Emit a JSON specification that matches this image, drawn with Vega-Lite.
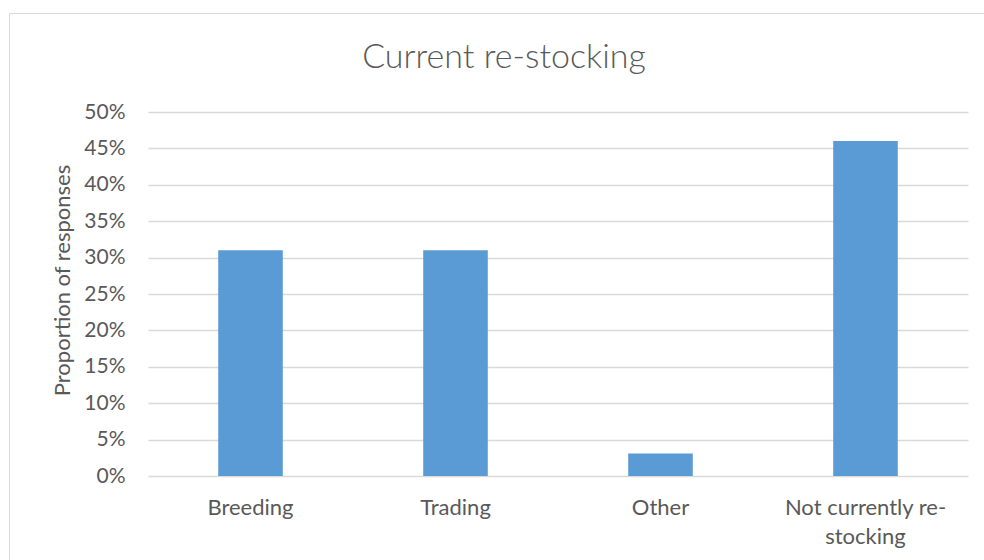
{
  "$schema": "https://vega.github.io/schema/vega-lite/v6.json",
  "width": 990,
  "height": 560,
  "autosize": {"type": "none"},
  "padding": {"left": 9, "top": 13, "right": 0, "bottom": 0},
  "background": "white",
  "title": {
    "text": "Current re-stocking",
    "font": "Lato",
    "fontWeight": 300,
    "fontSize": 34,
    "color": "#595959",
    "anchor": "middle",
    "frame": "group",
    "baseline": "alphabetic",
    "offset": -89
  },
  "data": {
    "values": [
      {"category": "Breeding", "proportion": 0.31},
      {"category": "Trading", "proportion": 0.31},
      {"category": "Other", "proportion": 0.031},
      {"category": "Not currently re-stocking", "proportion": 0.46}
    ]
  },
  "mark": {"type": "bar", "color": "#5B9BD5"},
  "encoding": {
    "x": {
      "field": "category",
      "type": "nominal",
      "sort": null,
      "scale": {"range": [139, 959], "paddingInner": 0.685, "paddingOuter": 0.3425},
      "axis": {
        "title": null,
        "labelAngle": 0,
        "domain": false,
        "ticks": false,
        "grid": false,
        "labelFont": "Lato",
        "labelFontSize": 22,
        "labelColor": "#595959",
        "labelPadding": 38,
        "labelBaseline": "alphabetic",
        "labelLineHeight": 29,
        "labelLimit": 0,
        "labelOverlap": false,
        "offset": -97,
        "labelExpr": "datum.value == 'Not currently re-stocking' ? ['Not currently re-', 'stocking'] : datum.label"
      }
    },
    "y": {
      "field": "proportion",
      "type": "quantitative",
      "scale": {"domain": [0, 0.5], "range": [463, 99], "nice": false, "zero": true},
      "axis": {
        "title": "Proportion of responses",
        "values": [0, 0.05, 0.1, 0.15, 0.2, 0.25, 0.3, 0.35, 0.4, 0.45, 0.5],
        "format": ".0%",
        "domain": false,
        "ticks": false,
        "grid": true,
        "gridColor": "#d9d9d9",
        "gridWidth": 1.5,
        "labelFont": "Lato",
        "labelFontSize": 21,
        "labelColor": "#595959",
        "labelPadding": 23,
        "offset": -139,
        "titleFont": "Lato",
        "titleFontSize": 22,
        "titleFontWeight": "normal",
        "titleColor": "#595959",
        "titleX": -79,
        "titleY": 267,
        "titleAngle": -90,
        "titleAlign": "center",
        "titleBaseline": "alphabetic"
      }
    }
  },
  "config": {"view": {"stroke": "#d9d9d9", "strokeWidth": 1}}
}
